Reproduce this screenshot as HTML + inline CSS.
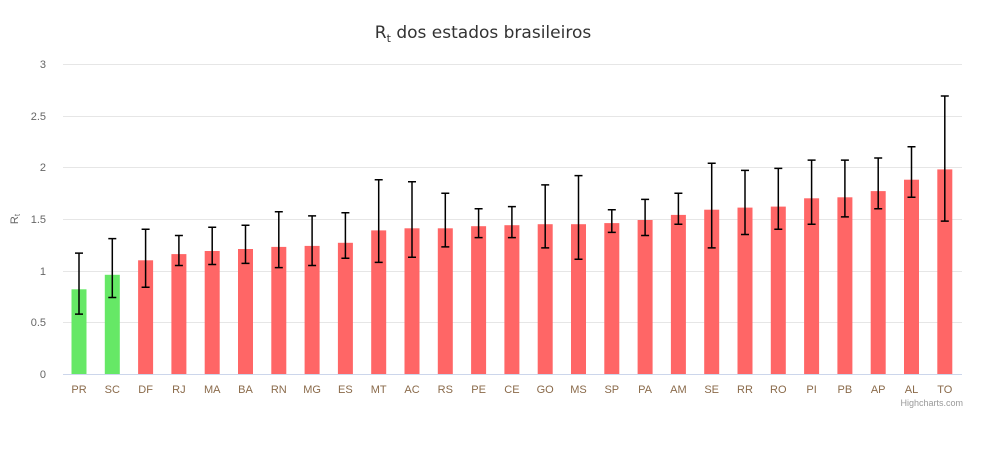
<!DOCTYPE html><html><head><meta charset="utf-8"><style>body{margin:0;background:#fff}svg{display:block;font-family:"Liberation Sans","DejaVu Sans",sans-serif}</style></head><body>
<svg width="986" height="455" xmlns="http://www.w3.org/2000/svg">
<rect width="986" height="455" fill="#fff"/>
<text x="483" y="38" text-anchor="middle" font-size="17" fill="#333" style="font-family:'DejaVu Sans',sans-serif">R<tspan font-size="11" dy="4">t</tspan><tspan dy="-4"> dos estados brasileiros</tspan></text>
<g stroke="#e6e6e6" stroke-width="1">
<line x1="63" x2="962" y1="64.5" y2="64.5"/><line x1="63" x2="962" y1="116.5" y2="116.5"/><line x1="63" x2="962" y1="167.5" y2="167.5"/><line x1="63" x2="962" y1="219.5" y2="219.5"/><line x1="63" x2="962" y1="271.5" y2="271.5"/><line x1="63" x2="962" y1="322.5" y2="322.5"/>
</g>
<line x1="63" x2="962" y1="374.5" y2="374.5" stroke="#ccd6eb"/>
<g font-size="11" fill="#666" text-anchor="end">
<text x="46" y="68">3</text><text x="46" y="120">2.5</text><text x="46" y="171">2</text><text x="46" y="223">1.5</text><text x="46" y="275">1</text><text x="46" y="326">0.5</text><text x="46" y="378">0</text>
</g>
<text transform="translate(18,219) rotate(-90)" text-anchor="middle" font-size="11" fill="#666">R<tspan font-size="8" dy="2">t</tspan></text>
<g id="bars">
<g fill="#66e866"><rect x="71.5" y="289.3" width="15" height="84.7"/><rect x="104.8" y="274.8" width="15" height="99.2"/></g>
<g fill="#ff6666">
<rect x="138.1" y="260.3" width="15" height="113.7"/><rect x="171.4" y="254.1" width="15" height="119.9"/><rect x="204.7" y="251" width="15" height="123"/><rect x="238" y="249" width="15" height="125"/><rect x="271.3" y="246.9" width="15" height="127.1"/><rect x="304.6" y="245.9" width="15" height="128.1"/><rect x="337.9" y="242.8" width="15" height="131.2"/><rect x="371.2" y="230.4" width="15" height="143.6"/><rect x="404.5" y="228.3" width="15" height="145.7"/><rect x="437.8" y="228.3" width="15" height="145.7"/><rect x="471.1" y="226.2" width="15" height="147.8"/><rect x="504.4" y="225.2" width="15" height="148.8"/><rect x="537.7" y="224.2" width="15" height="149.8"/><rect x="571" y="224.2" width="15" height="149.8"/><rect x="604.3" y="223.1" width="15" height="150.9"/><rect x="637.6" y="220" width="15" height="154"/><rect x="670.9" y="214.9" width="15" height="159.1"/><rect x="704.2" y="209.7" width="15" height="164.3"/><rect x="737.5" y="207.6" width="15" height="166.4"/><rect x="770.8" y="206.6" width="15" height="167.4"/><rect x="804.1" y="198.3" width="15" height="175.7"/><rect x="837.4" y="197.3" width="15" height="176.7"/><rect x="870.7" y="191.1" width="15" height="182.9"/><rect x="904" y="179.7" width="15" height="194.3"/><rect x="937.3" y="169.4" width="15" height="204.6"/>
</g></g>
<g stroke="#000" stroke-width="1.5" fill="none">
<path d="M79 253.1V314.1M75 253.1h8M75 314.1h8"/>
<path d="M112.3 238.6V297.5M108.3 238.6h8M108.3 297.5h8"/>
<path d="M145.6 229.3V287.2M141.6 229.3h8M141.6 287.2h8"/>
<path d="M178.9 235.5V265.5M174.9 235.5h8M174.9 265.5h8"/>
<path d="M212.2 227.3V264.5M208.2 227.3h8M208.2 264.5h8"/>
<path d="M245.5 225.2V263.4M241.5 225.2h8M241.5 263.4h8"/>
<path d="M278.8 211.8V267.6M274.8 211.8h8M274.8 267.6h8"/>
<path d="M312.1 215.9V265.5M308.1 215.9h8M308.1 265.5h8"/>
<path d="M345.4 212.8V258.3M341.4 212.8h8M341.4 258.3h8"/>
<path d="M378.7 179.7V262.4M374.7 179.7h8M374.7 262.4h8"/>
<path d="M412 181.8V257.2M408 181.8h8M408 257.2h8"/>
<path d="M445.3 193.2V246.9M441.3 193.2h8M441.3 246.9h8"/>
<path d="M478.6 208.7V237.6M474.6 208.7h8M474.6 237.6h8"/>
<path d="M511.9 206.6V237.6M507.9 206.6h8M507.9 237.6h8"/>
<path d="M545.2 184.9V247.9M541.2 184.9h8M541.2 247.9h8"/>
<path d="M578.5 175.6V259.3M574.5 175.6h8M574.5 259.3h8"/>
<path d="M611.8 209.7V232.4M607.8 209.7h8M607.8 232.4h8"/>
<path d="M645.1 199.4V235.5M641.1 199.4h8M641.1 235.5h8"/>
<path d="M678.4 193.2V224.2M674.4 193.2h8M674.4 224.2h8"/>
<path d="M711.7 163.2V247.9M707.7 163.2h8M707.7 247.9h8"/>
<path d="M745 170.4V234.5M741 170.4h8M741 234.5h8"/>
<path d="M778.3 168.4V229.3M774.3 168.4h8M774.3 229.3h8"/>
<path d="M811.6 160.1V224.2M807.6 160.1h8M807.6 224.2h8"/>
<path d="M844.9 160.1V216.9M840.9 160.1h8M840.9 216.9h8"/>
<path d="M878.2 158V208.7M874.2 158h8M874.2 208.7h8"/>
<path d="M911.5 146.7V197.3M907.5 146.7h8M907.5 197.3h8"/>
<path d="M944.8 96V221.1M940.8 96h8M940.8 221.1h8"/>
</g>
<g font-size="11" fill="#8a6a4a" text-anchor="middle">
<text x="79" y="393">PR</text><text x="112.3" y="393">SC</text><text x="145.6" y="393">DF</text><text x="178.9" y="393">RJ</text><text x="212.2" y="393">MA</text><text x="245.5" y="393">BA</text><text x="278.8" y="393">RN</text><text x="312.1" y="393">MG</text><text x="345.4" y="393">ES</text><text x="378.7" y="393">MT</text><text x="412" y="393">AC</text><text x="445.3" y="393">RS</text><text x="478.6" y="393">PE</text><text x="511.9" y="393">CE</text><text x="545.2" y="393">GO</text><text x="578.5" y="393">MS</text><text x="611.8" y="393">SP</text><text x="645.1" y="393">PA</text><text x="678.4" y="393">AM</text><text x="711.7" y="393">SE</text><text x="745" y="393">RR</text><text x="778.3" y="393">RO</text><text x="811.6" y="393">PI</text><text x="844.9" y="393">PB</text><text x="878.2" y="393">AP</text><text x="911.5" y="393">AL</text><text x="944.8" y="393">TO</text>
</g>
<text x="963" y="406" text-anchor="end" font-size="9" fill="#999">Highcharts.com</text>
</svg>
</body></html>
